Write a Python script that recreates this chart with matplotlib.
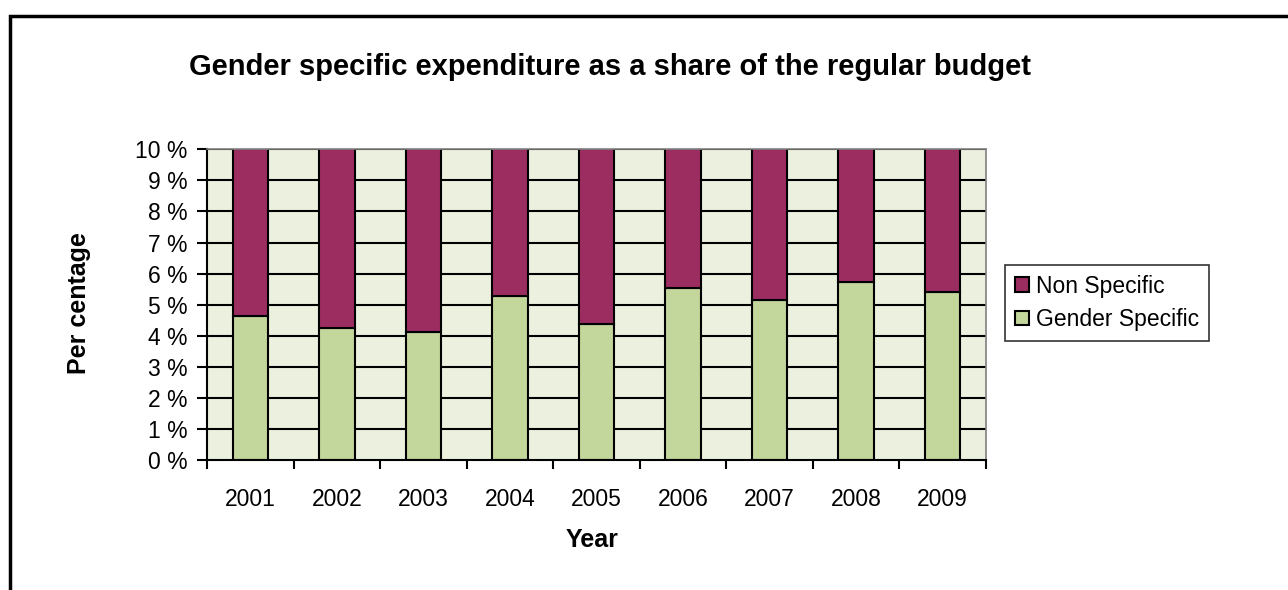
import matplotlib.pyplot as plt
from matplotlib.patches import Rectangle
from matplotlib.ticker import FixedLocator, NullFormatter

plt.rcParams['font.family'] = ['Liberation Sans', 'DejaVu Sans']

aar = ['2001', '2002', '2003', '2004', '2005', '2006', '2007', '2008', '2009']
gender_specific = [4.65, 4.26, 4.11, 5.29, 4.38, 5.55, 5.15, 5.74, 5.40]
non_specific = [100 - g for g in gender_specific]

LILLA = '#9b2d61'
GROEN = '#c3d69b'
BAGGRUND = '#ebf1de'
W, H = 1288, 590

fig = plt.figure(figsize=(W / 100, H / 100), dpi=100)
ax = fig.add_axes([207 / W, 1 - 460 / H, 779 / W, 310.7 / H])
ax.set_facecolor(BAGGRUND)

x = range(len(aar))
for y in range(1, 11):
    ax.axhline(y, color='black', lw=1.5, zorder=1)
ax.bar(x, gender_specific, width=0.41, color=GROEN, edgecolor='black', lw=1.5,
       zorder=2, label='Gender Specific')
ax.bar(x, non_specific, width=0.41, bottom=gender_specific, color=LILLA,
       edgecolor='black', lw=1.5, zorder=2, label='Non Specific')

ax.set_xlim(-0.5, len(aar) - 0.5)
ax.set_ylim(0, 10)
ax.set_yticks(range(0, 11))
ax.set_yticklabels(['%d %%' % v for v in range(0, 11)], fontsize=16.5)
ax.xaxis.set_major_locator(FixedLocator([i + 0.5 for i in range(-1, len(aar))]))
ax.xaxis.set_major_formatter(NullFormatter())
ax.set_xticks(list(x), minor=True)
ax.set_xticklabels(aar, minor=True, fontsize=16.5)
ax.tick_params(axis='x', which='minor', length=0, pad=20)
ax.tick_params(axis='x', which='major', length=6.5, width=1.5, direction='out')
ax.tick_params(axis='y', length=7, width=1.5, direction='out', pad=7)

for s in ['left', 'bottom']:
    ax.spines[s].set_color('black')
    ax.spines[s].set_linewidth(1.5)
for s in ['top', 'right']:
    ax.spines[s].set_color('#808080')
    ax.spines[s].set_linewidth(1.2)

fig.text(592 / W, 1 - 540 / H, 'Year', ha='center', va='center',
         fontsize=18, fontweight='bold')
fig.text(79 / W, 1 - 303 / H, 'Per centage', ha='center', va='center',
         rotation=90, fontsize=18, fontweight='bold')
fig.text(610 / W, 1 - 67 / H,
         'Gender specific expenditure as a share of the regular budget',
         ha='center', va='center', fontsize=21, fontweight='bold')

h, l = ax.get_legend_handles_labels()
leg = fig.legend(h[::-1], l[::-1], loc='center left',
                 bbox_to_anchor=(1005 / W, 1 - 303 / H), fontsize=16.5,
                 frameon=True, fancybox=False, edgecolor='black',
                 handlelength=0.6, handleheight=0.6, handletextpad=0.3,
                 labelspacing=0.45, borderpad=0.45, borderaxespad=0)
leg.get_frame().set_linewidth(1.2)

fig.patches.append(Rectangle((10 / W, -0.1), 1.2, 1 - 16 / H + 0.1,
                             transform=fig.transFigure, fill=False,
                             edgecolor='black', lw=2.5))

fig.savefig('out.png', dpi=100)
